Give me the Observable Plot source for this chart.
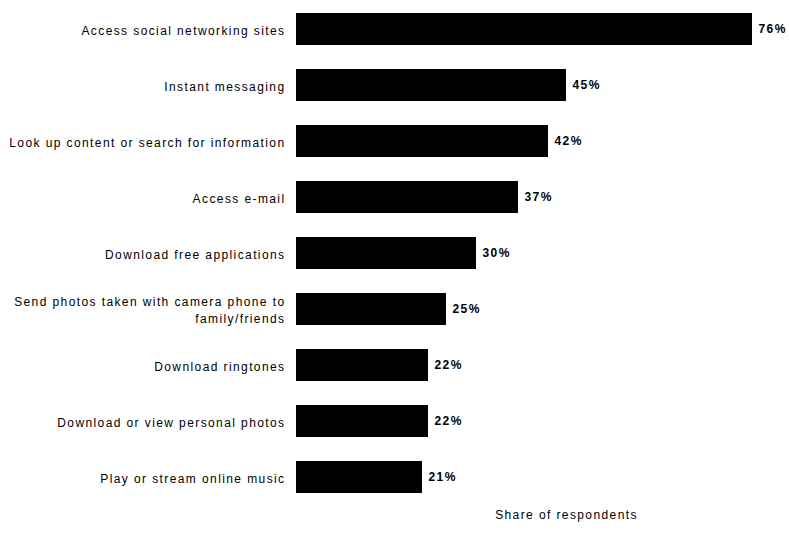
<!DOCTYPE html>
<html>
<head>
<meta charset="utf-8">
<script src="https://cdn.jsdelivr.net/npm/d3@7"></script>
<script src="https://cdn.jsdelivr.net/npm/@observablehq/plot@0.6"></script>
<style>
  html, body { margin: 0; padding: 0; background: #fff; }
  #chart svg { display: block; }
  #chart svg text { letter-spacing: 1.4px; }
</style>
</head>
<body>
<div id="chart"></div>
<script>
const categories = [
  "Access social networking sites",
  "Instant messaging",
  "Look up content or search for information",
  "Access e-mail",
  "Download free applications",
  "Send photos taken with camera phone to\nfamily/friends",
  "Download ringtones",
  "Download or view personal photos",
  "Play or stream online music"
];
const values = [76, 45, 42, 37, 30, 25, 22, 22, 21];
const valueLabels = ["76%", "45%", "42%", "37%", "30%", "25%", "22%", "22%", "21%"];
const axisTitle = "Share of respondents";

const data = categories.map((c, i) => ({category: c, value: values[i], label: valueLabels[i]}));

const chart = Plot.plot({
  width: 789,
  height: 550,
  marginLeft: 296,
  marginRight: 37,
  marginTop: 9,
  marginBottom: 54,
  style: {fontFamily: "'Liberation Sans', Arial, sans-serif", fontSize: "12px", color: "#000", background: "#fff"},
  x: {domain: [0, 76], axis: null},
  y: {domain: categories, paddingInner: 0.437, paddingOuter: 0, axis: null},
  marks: [
    Plot.barX(data, {y: "category", x: "value", fill: "#000"}),
    Plot.text(data, {y: "category", x: "value", text: "label", textAnchor: "start", dx: 6, fontWeight: "bold", fontSize: 12, fill: "#000"}),
    Plot.axisY({tickSize: 0, tickPadding: 11, fontSize: 12, fill: "#000", label: null, lineHeight: 1.4}),
    Plot.text([axisTitle], {frameAnchor: "bottom", dx: 42, dy: 22, fontSize: 12, fill: "#000"})
  ]
});
document.getElementById("chart").append(chart);
</script>
</body>
</html>
